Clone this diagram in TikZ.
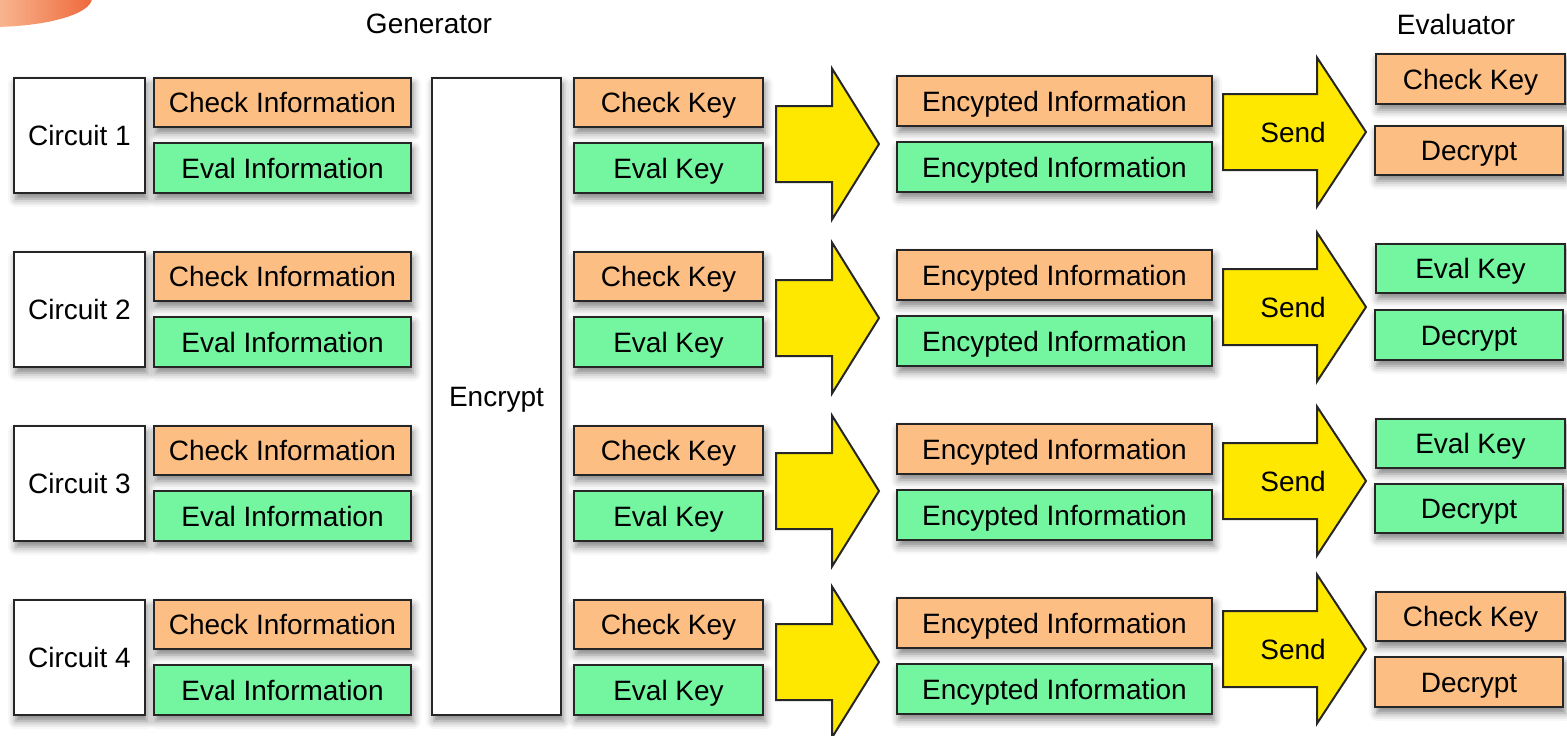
\documentclass[tikz,border=0pt]{standalone}
\usepackage{fontspec}
\setmainfont{Liberation Sans}
\usetikzlibrary{shadows.blur}

\definecolor{checkfill}{HTML}{FDBE83}
\definecolor{evalfill}{HTML}{74F59F}
\definecolor{sendfill}{HTML}{FFE800}
\definecolor{edge}{HTML}{262626}
\definecolor{blobL}{HTML}{F8B48E}
\definecolor{blobR}{HTML}{EE683A}

\tikzset{
  card/.style={draw=edge, line width=1pt, inner sep=0pt,
    font=\fontsize{14}{16}\selectfont, text height=10pt, text depth=0pt,
    blur shadow={shadow xshift=1pt, shadow yshift=-3pt,
      shadow blur radius=4pt, shadow opacity=50}},
  checkcard/.style={card, fill=checkfill},
  evalcard/.style={card, fill=evalfill},
  plaincard/.style={card, fill=white},
  fatarrow/.style={draw=edge, line width=1pt, fill=sendfill},
  heading/.style={font=\fontsize{14}{16}\selectfont},
  arrowtext/.style={font=\fontsize{14}{16}\selectfont, inner sep=0pt,
    text height=10pt, text depth=0pt}
}

% \card{name}{x1}{y1}{x2}{y2}{style}{text}: box given by its corners
\newcommand\card[7]{%
  \node[#6, minimum width={((#4)-(#2))*0.5pt}, minimum height={((#5)-(#3))*0.5pt}]
    (#1) at ({((#2)+(#4))/2},{((#3)+(#5))/2}) {#7};}

% \blockarrow{x shaft}{x head}{x tip}{y centre}{half shaft}{half head}
\newcommand\blockarrow[6]{%
  \draw[fatarrow] (#1,{(#4)-(#5)}) -- (#2,{(#4)-(#5)}) -- (#2,{(#4)-(#6)})
    -- (#3,#4) -- (#2,{(#4)+(#6)}) -- (#2,{(#4)+(#5)}) -- (#1,{(#4)+(#5)}) -- cycle;}

\begin{document}
\begin{tikzpicture}[x=0.5pt, y=-0.5pt]
\useasboundingbox (0,0) rectangle (1567,735);
\clip (0,0) rectangle (1567,735);

% corner ornament
\begin{scope}
  \clip (-10,-2) ellipse [x radius=51pt, y radius=14.5pt];
  \shade[left color=blobL, right color=blobR] (0,0) rectangle (94,32);
\end{scope}

% headings
\node[heading] (gen) at (429,24) {Generator};
\node[heading] (evalr) at (1456,24) {Evaluator};

% the shared encryption step
\card{enc}{432}{78}{561}{715}{plaincard}{Encrypt}

% generator side, one row per circuit
\foreach \i/\ay in {1/144, 2/318, 3/491, 4/662} {
  \pgfmathsetmacro\dy{174*(\i-1)}
  \card{circ\i}{14}{78+\dy}{145}{193+\dy}{plaincard}{Circuit \i}
  \card{cinfo\i}{154}{78+\dy}{411}{127+\dy}{checkcard}{Check Information}
  \card{einfo\i}{154}{143+\dy}{411}{193+\dy}{evalcard}{Eval Information}
  \card{ckey\i}{574}{78+\dy}{763}{127+\dy}{checkcard}{Check Key}
  \card{ekey\i}{574}{143+\dy}{763}{193+\dy}{evalcard}{Eval Key}
  \blockarrow{776}{832}{879}{\ay}{38}{75.5}
  \card{cenc\i}{897}{76+\dy}{1212}{126+\dy}{checkcard}{Encypted Information}
  \card{eenc\i}{897}{142+\dy}{1212}{192+\dy}{evalcard}{Encypted Information}
}

% sending to the evaluator
\foreach \i/\sy in {1/132, 2/307, 3/481, 4/649} {
  \blockarrow{1223}{1317}{1366}{\sy}{38}{74.5}
  \node[arrowtext] (send\i) at (1293,\sy) {Send};
}

% evaluator side
\card{vkey1}{1376}{54}{1565}{104}{checkcard}{Check Key}
\card{vdec1}{1375}{126}{1563}{175}{checkcard}{Decrypt}
\card{vkey2}{1376}{244}{1565}{293}{evalcard}{Eval Key}
\card{vdec2}{1375}{310}{1563}{360}{evalcard}{Decrypt}
\card{vkey3}{1376}{419}{1565}{468}{evalcard}{Eval Key}
\card{vdec3}{1375}{484}{1563}{533}{evalcard}{Decrypt}
\card{vkey4}{1376}{592}{1565}{641}{checkcard}{Check Key}
\card{vdec4}{1375}{657}{1563}{707}{checkcard}{Decrypt}
\end{tikzpicture}
\end{document}
